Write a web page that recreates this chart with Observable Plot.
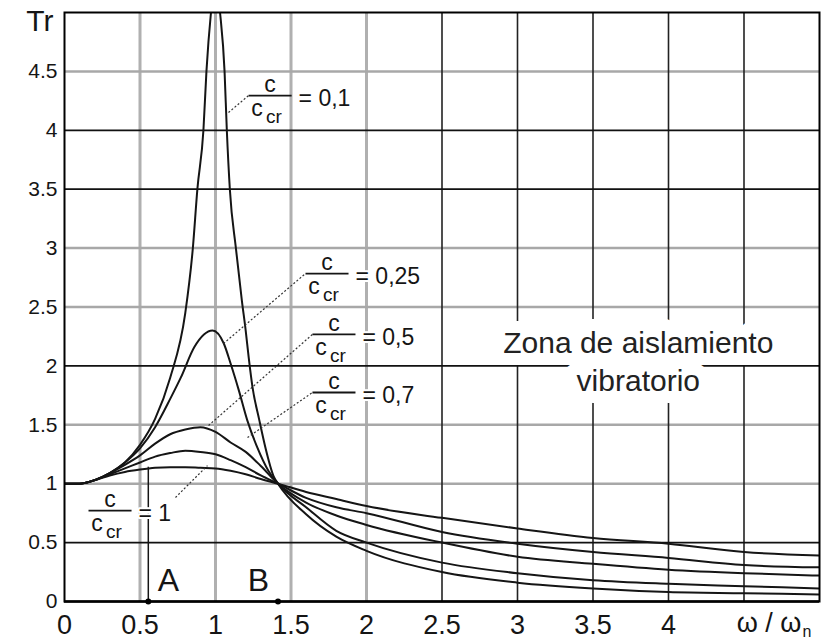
<!DOCTYPE html>
<html><head><meta charset="utf-8">
<script src="https://cdn.jsdelivr.net/npm/d3@7"></script>
<script src="https://cdn.jsdelivr.net/npm/@observablehq/plot@0.6"></script>
<style>
body{margin:0;background:#fff;}
#chart svg{display:block;}
g[aria-label="ytick"] text{letter-spacing:4px;}
</style></head><body><div id="chart"></div>
<script>
// frequency ratio ω/ωn sample points and transmissibility Tr
const xCommon = [0,0.1,0.2,0.3,0.4,0.5,0.6,0.7,0.8,0.9,1.0,1.1,1.2,1.3,1.414,1.6,1.8,2.0,2.5,3.0,3.5,4.0,4.5,5.0];
const trZeta1   = [1.0,1.0,1.03,1.07,1.1,1.12,1.135,1.14,1.14,1.135,1.13,1.11,1.08,1.04,1.0,0.93,0.87,0.81,0.71,0.62,0.54,0.49,0.42,0.39];
const trZeta07  = [1.0,1.0,1.03,1.08,1.13,1.18,1.23,1.26,1.28,1.27,1.25,1.2,1.14,1.07,1.0,0.88,0.80,0.75,0.59,0.49,0.42,0.37,0.31,0.29];
const trZeta05  = [1.0,1.0,1.03,1.09,1.16,1.24,1.34,1.42,1.46,1.48,1.44,1.35,1.27,1.15,1.0,0.84,0.73,0.65,0.5,0.38,0.32,0.27,0.24,0.22];
const xZeta025  = [0,0.1,0.2,0.3,0.4,0.5,0.6,0.7,0.77,0.86,0.98,1.055,1.1,1.155,1.21,1.276,1.35,1.414,1.6,1.8,2.0,2.5,3.0,3.5,4.0,4.5,5.0];
const trZeta025 = [1.0,1.0,1.03,1.09,1.18,1.3,1.48,1.72,1.9,2.16,2.3,2.19,2.02,1.79,1.54,1.31,1.11,1.0,0.8,0.6,0.5,0.33,0.24,0.18,0.15,0.13,0.11];
const xZeta01   = [0,0.1,0.2,0.3,0.4,0.5,0.6,0.7,0.8,0.85,0.88,0.92,0.94,0.97,1.0,1.03,1.06,1.075,1.095,1.135,1.175,1.2,1.22,1.245,1.29,1.33,1.386,1.414,1.6,1.8,2.0,2.5,3.0,3.5,4.0,4.5,5.0];
const trZeta01  = [1.0,1.0,1.03,1.09,1.18,1.33,1.55,1.9,2.45,3.0,3.5,4.0,4.5,5.0,5.3,5.0,4.5,4.0,3.5,3.0,2.55,2.3,2.07,1.82,1.54,1.31,1.06,1.0,0.74,0.55,0.43,0.25,0.16,0.11,0.08,0.07,0.06];

// axes
const xTicks = [0,0.5,1,1.5,2,2.5,3,3.5,4];
const xTickLabels = ["0","0.5","1","1.5","2","2.5","3","3.5","4"];
const yTicks = [0,0.5,1,1.5,2,2.5,3,3.5,4,4.5];
const yTickLabels = ["0","0.5","1","1.5","2","2.5","3","3.5","4","4.5"];
const darkGridX = [2.5,3,3.5,4,4.5];
const lightGridX = [0.5,1,1.5,2];
const darkGridY = [0.5,2,3.5,4];
const lightGridY = [1,1.5,2.5,3,4.5];

// annotations (data coordinates)
const fracZeta = ["0,1","0,25","0,5","0,7","1"];
const fracX = [1.219,1.596,1.642,1.642,0.159];
const fracY = [4.295,2.784,2.267,1.774,0.772];
const leaderX1 = [1.086,1.053,0.954,1.212,0.735];
const leaderY1 = [4.151,2.19,1.494,1.392,0.883];
const leaderX2 = [1.219,1.596,1.642,1.642,0.947];
const leaderY2 = [4.295,2.784,2.267,1.774,1.154];
const markerX = [0.555,1.414];
const markerNames = ["A","B"];
const markerLabelX = [0.689,1.285];
const markerLabelY = 0.178;
const markerATop = 1.14;
const zonaLines = ["Zona de aislamiento","vibratorio"];
const zonaX = 3.8;
const zonaY = [2.19,1.87];

const fracW = 0.285;

const series = [
  {zeta:"0,1", xs:xZeta01, ys:trZeta01},
  {zeta:"0,25", xs:xZeta025, ys:trZeta025},
  {zeta:"0,5", xs:xCommon, ys:trZeta05},
  {zeta:"0,7", xs:xCommon, ys:trZeta07},
  {zeta:"1", xs:xCommon, ys:trZeta1}
];
const rows = series.flatMap(s => s.xs.map((x,i) => ({zeta:s.zeta, x, y:s.ys[i]})));
const fracs = fracZeta.map((z,i) => ({zeta:z, x:fracX[i], y:fracY[i]}));
const leaders = fracZeta.map((z,i) => ({x1:leaderX1[i], y1:leaderY1[i], x2:leaderX2[i], y2:leaderY2[i]}));
const markers = markerX.map((x,i) => ({x, name:markerNames[i], lx:markerLabelX[i]}));
const zona = zonaLines.map((t,i) => ({t, y:zonaY[i]}));

const font = "Liberation Sans, Arial, sans-serif";
const ink = "#151515";

const chart = Plot.plot({
  width: 821, height: 644,
  marginLeft: 64, marginRight: 2, marginTop: 12, marginBottom: 43,
  x: {domain:[0,5], axis:null},
  y: {domain:[0,5], axis:null},
  style: {fontFamily: font, background:"#fff", color: ink},
  marks: [
    Plot.ruleX(lightGridX, {stroke:"#b0b0b0", strokeWidth:3}),
    Plot.ruleY(lightGridY, {stroke:"#a8a8a8", strokeWidth:2.5}),
    Plot.ruleX(darkGridX, {stroke:"#222", strokeWidth:1.6}),
    Plot.ruleY(darkGridY, {stroke:"#111", strokeWidth:1.8}),
    Plot.text(zona, {x:()=>zonaX, y:"y", text:"t", fontSize:30, fill:"#222", stroke:"#fff", strokeWidth:24, strokeLinejoin:"round"}),
    Plot.ruleX([markerX[0]], {y1:0, y2:markerATop, stroke:ink, strokeWidth:1.5}),
    Plot.line(rows, {x:"x", y:"y", z:"zeta", stroke:ink, strokeWidth:2, curve:"monotone-x", clip:true}),
    Plot.link(leaders, {x1:"x1", y1:"y1", x2:"x2", y2:"y2", stroke:"#333", strokeWidth:1.2, strokeDasharray:"2,2"}),
    Plot.link(fracs, {x1:"x", x2:d=>d.x+fracW, y1:"y", y2:"y", stroke:ink, strokeWidth:1.8}),
    Plot.text(fracs, {x:d=>d.x+fracW/2, y:"y", text:()=>"c", dy:-10.5, fontSize:23, fill:ink}),
    Plot.text(fracs, {x:d=>d.x+fracW/2, y:"y", text:()=>"c", dx:-13, dy:13.5, fontSize:23, fill:ink}),
    Plot.text(fracs, {x:d=>d.x+fracW/2, y:"y", text:()=>"cr", dx:-4, dy:21, textAnchor:"start", fontSize:19, fill:ink}),
    Plot.text(fracs, {x:d=>d.x+fracW, y:"y", text:d=>"= "+d.zeta, dx:7, dy:3, textAnchor:"start", fontSize:23, fill:ink, stroke:"#fff", strokeWidth:4}),
    Plot.frame({stroke:"#000", strokeWidth:2}),
    Plot.ruleY([0], {stroke:"#000", strokeWidth:2.5}),
    Plot.dot(markers, {x:"x", y:()=>0, r:3, fill:"#000", stroke:null}),
    Plot.text(markers, {x:"lx", y:()=>markerLabelY, text:"name", fontSize:32, fill:ink}),
    Plot.text(yTicks, {x:()=>0, y:d=>d, text:(d,i)=>yTickLabels[i], textAnchor:"end", dx:-7, fontSize:21, fill:ink, ariaLabel:"ytick"}),
    Plot.text(["Tr"], {x:()=>0, y:()=>5, text:d=>d, textAnchor:"end", dx:-11, dy:9, fontSize:30, fill:ink}),
    Plot.text(xTicks, {x:d=>d, y:()=>0, text:(d,i)=>xTickLabels[i], dy:24, fontSize:27, fill:ink}),
    Plot.text(["ω / ω"], {x:()=>4.88, y:()=>0, text:d=>d, textAnchor:"end", dy:22, fontSize:27, fill:ink}),
    Plot.text(["n"], {x:()=>4.88, y:()=>0, text:d=>d, textAnchor:"start", dx:1, dy:30, fontSize:16, fill:ink})
  ]
});
document.getElementById("chart").appendChild(chart);
</script>
</body></html>
